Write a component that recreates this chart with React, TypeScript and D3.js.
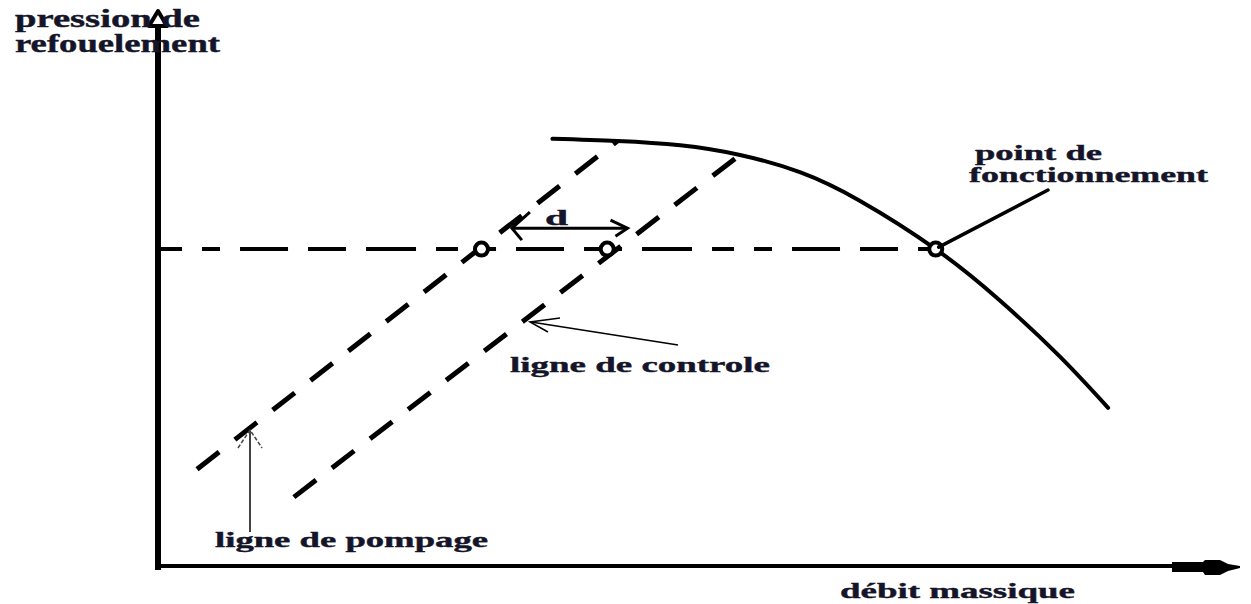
import React from "react";
import * as d3 from "d3";

// Schematic units: mass flow (x) 0..100, discharge pressure (y) 0..100
const compressorCurve: [number, number][] = [
  [38.9, 79.4],
  [45.3, 79.0],
  [51.5, 78.2],
  [57.4, 76.4],
  [63.3, 73.2],
  [69.2, 67.9],
  [76.7, 58.9],
  [83.0, 49.4],
  [88.9, 39.0],
  [93.7, 29.4],
];
const surgeLine: [number, number][] = [
  [3.85, 18.0],
  [45.3, 79.0],
];
const controlLine: [number, number][] = [
  [13.4, 12.8],
  [57.1, 76.0],
];
const operatingPressure: [number, number][] = [
  [0.2, 58.9],
  [76.7, 58.9],
];
const markers: [number, number][] = [
  [31.9, 58.9],
  [44.3, 58.9],
  [76.7, 58.9],
];
const dArrow: [number, number][] = [
  [34.9, 62.8],
  [46.3, 62.8],
];

const W = 1251;
const H = 604;

export default function App() {
  const x = d3.scaleLinear().domain([0, 100]).range([158, 1172]);
  const y = d3.scaleLinear().domain([0, 100]).range([566, 28]);
  const line = d3
    .line<[number, number]>()
    .x((d) => x(d[0]))
    .y((d) => y(d[1]));
  const curveLine = d3
    .line<[number, number]>()
    .x((d) => x(d[0]))
    .y((d) => y(d[1]))
    .curve(d3.curveNatural);

  const font = {
    fontFamily: "'Liberation Serif', 'Times New Roman', serif",
    fontWeight: "bold" as const,
    fill: "#15152a",
    stroke: "#15152a",
    strokeWidth: 0.4,
  };

  const x0 = x(0);
  const y0 = y(0);
  const [da, db] = dArrow;
  const dx1 = x(da[0]);
  const dx2 = x(db[0]);
  const dy = y(da[1]);
  const op = markers[2];

  return (
    <svg
      width={W}
      height={H}
      style={{ position: "absolute", left: 0, top: 0, background: "#fff" }}
    >
      <rect width={W} height={H} fill="#fff" />
      {/* Y axis */}
      <line x1={x0} y1={y0 + 4} x2={x0} y2={27} stroke="#000" strokeWidth={6} />
      <path
        d={`M${x0},11 L${x0 + 9},26 L${x0 - 9},26 Z`}
        fill="#fff"
        stroke="#000"
        strokeWidth={4}
        strokeLinejoin="round"
      />
      {/* X axis */}
      <line x1={x0 - 3} y1={y0} x2={x(100)} y2={y0} stroke="#000" strokeWidth={4} />
      <path
        d={`M${x(100)},${y0 - 4} L1203,${y0 - 4} L1205,${y0 - 6} L1220,${y0 - 6} L1228,${y0 - 2} L1240,${y0} L1240,${y0 + 2} L1228,${y0 + 5} L1220,${y0 + 9} L1205,${y0 + 9} L1203,${y0 + 6} L${x(100)},${y0 + 6} Z`}
        fill="#000"
      />

      {/* horizontal dashed line */}
      <path
        d={line(operatingPressure) || ""}
        stroke="#000"
        strokeWidth={4}
        fill="none"
        strokeDasharray="22 20 18 20 48 20 38 20 50 20"
      />
      {/* surge & control lines */}
      <path
        d={line(surgeLine) || ""}
        stroke="#000"
        strokeWidth={5}
        fill="none"
        strokeDasharray="28 20"
      />
      <path
        d={line(controlLine) || ""}
        stroke="#000"
        strokeWidth={5}
        fill="none"
        strokeDasharray="28 20"
      />
      {/* compressor curve */}
      <path
        d={curveLine(compressorCurve) || ""}
        stroke="#000"
        strokeWidth={4}
        fill="none"
        strokeLinecap="round"
      />

      {/* markers */}
      {markers.map((m, i) => (
        <circle
          key={i}
          cx={x(m[0])}
          cy={y(m[1])}
          r={6.5}
          fill="#fff"
          stroke="#000"
          strokeWidth={4}
        />
      ))}

      {/* d arrow */}
      <line x1={dx1} y1={dy} x2={dx2} y2={dy} stroke="#000" strokeWidth={3} />
      <path
        d={`M${dx1 + 18},${dy - 16} L${dx1},${dy} L${dx1 + 10},${dy + 12}`}
        stroke="#000"
        strokeWidth={3}
        fill="none"
      />
      <path
        d={`M${dx2 - 17},${dy - 8} L${dx2},${dy} L${dx2 - 12},${dy + 8}`}
        stroke="#000"
        strokeWidth={3}
        fill="none"
      />
      <text x={545} y={225} fontSize={21} textLength={23} lengthAdjust="spacingAndGlyphs" {...font}>
        d
      </text>

      {/* point de fonctionnement pointer */}
      <line x1={x(op[0]) + 3} y1={y(op[1]) - 2} x2={1048} y2={190} stroke="#000" strokeWidth={3.5} strokeLinecap="round" />

      {/* ligne de controle arrow */}
      <line x1={678} y1={345} x2={531} y2={322} stroke="#000" strokeWidth={1.5} />
      <path d="M560,318 L530,322 L548,332" stroke="#000" strokeWidth={1.5} fill="none" />

      {/* ligne de pompage arrow */}
      <line x1={250} y1={532} x2={250} y2={431} stroke="#444" strokeWidth={2} />
      <path d="M238,448 L250,430 L262,448" stroke="#444" strokeWidth={1.5} fill="none" strokeDasharray="4 2" />

      {/* labels */}
      <text x={15} y={27} fontSize={25} textLength={185} lengthAdjust="spacingAndGlyphs" {...font}>
        pression de
      </text>
      <text x={15} y={52} fontSize={25} textLength={205} lengthAdjust="spacingAndGlyphs" {...font}>
        refouelement
      </text>
      <text x={975} y={160} fontSize={21} textLength={127} lengthAdjust="spacingAndGlyphs" {...font}>
        point de
      </text>
      <text x={969} y={182} fontSize={21} textLength={239} lengthAdjust="spacingAndGlyphs" {...font}>
        fonctionnement
      </text>
      <text x={510} y={372} fontSize={22} textLength={260} lengthAdjust="spacingAndGlyphs" {...font}>
        ligne de controle
      </text>
      <text x={215} y={547} fontSize={21} textLength={273} lengthAdjust="spacingAndGlyphs" {...font}>
        ligne de pompage
      </text>
      <text x={840} y={598} fontSize={22} textLength={235} lengthAdjust="spacingAndGlyphs" {...font}>
        débit massique
      </text>
    </svg>
  );
}
